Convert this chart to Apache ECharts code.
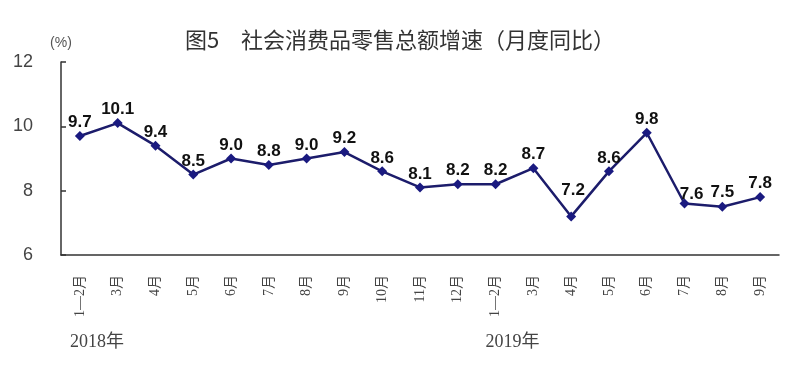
<!DOCTYPE html>
<html><head><meta charset="utf-8">
<script src="https://cdn.jsdelivr.net/npm/echarts@6/dist/echarts.min.js"></script>
<style>html,body{margin:0;padding:0;background:#fff}#c{width:800px;height:380px}</style>
</head><body><div id="c"></div>
<script>
var categories = ['1—2月','3月','4月','5月','6月','7月','8月','9月','10月','11月','12月','1—2月','3月','4月','5月','6月','7月','8月','9月'];
var values = [9.7,10.1,9.4,8.5,9.0,8.8,9.0,9.2,8.6,8.1,8.2,8.2,8.7,7.2,8.6,9.8,7.6,7.5,7.8];
var yTicks = [6, 8, 10, 12];
var yearLabels = [{text:'2018年', index:0}, {text:'2019年', index:11}];

var chart = echarts.init(document.getElementById('c'));
var serif = '"Liberation Serif","Noto Sans CJK SC",serif';
var seriesData = values.map(function(v, i){
  var item = {value:v};
  if (i === 13) item.label = {offset:[2, -13]};
  if (i === 16) item.label = {offset:[7, 4]};
  if (i === 17) item.label = {offset:[0, -1]};
  return item;
});
chart.setOption({
  animation:false,
  backgroundColor:'#fff',
  title:{text:'图5　社会消费品零售总额增速（月度同比）', left:'center', top:24,
    textStyle:{fontSize:22, fontWeight:'normal', color:'#333', fontFamily:'"Noto Sans CJK SC",sans-serif'}},
  grid:{left:61, right:21, top:62, bottom:125},
  xAxis:{type:'category', data:categories, boundaryGap:true,
    axisLine:{lineStyle:{color:'#333', width:1.5}},
    axisTick:{inside:true, length:5, lineStyle:{color:'#333', width:1.5}},
    axisLabel:{rotate:90, interval:0, margin:20, fontSize:14, color:'#444', fontFamily:serif}},
  yAxis:{type:'value', min:yTicks[0], max:yTicks[yTicks.length-1], interval:2,
    name:'(%)', nameLocation:'end', nameGap:12, nameTextStyle:{fontSize:14, color:'#555', align:'center'},
    splitLine:{show:false},
    axisLine:{show:true, lineStyle:{color:'#333', width:1.5}},
    axisTick:{show:true, inside:true, length:5, lineStyle:{color:'#333', width:1.5}},
    axisLabel:{fontSize:18, color:'#444', margin:28, fontFamily:'"Liberation Sans",Arial,sans-serif'}},
  series:[{type:'line', data:seriesData, symbol:'diamond', symbolSize:10,
    lineStyle:{color:'#1c1c6b', width:2.5},
    itemStyle:{color:'#1a1a80'},
    label:{show:true, position:'top', distance:0, fontSize:17, fontWeight:'bold', color:'#111',
      fontFamily:'"Liberation Sans",Arial,sans-serif',
      formatter:function(p){return p.value.toFixed(1);}}}]
});
var g = yearLabels.map(function(y){
  var px = chart.convertToPixel({xAxisIndex:0}, y.index);
  return {type:'text', left:px-10, top:333, style:{text:y.text, fill:'#444', font:'18px '+serif}};
});
chart.setOption({graphic:g});
</script></body></html>
